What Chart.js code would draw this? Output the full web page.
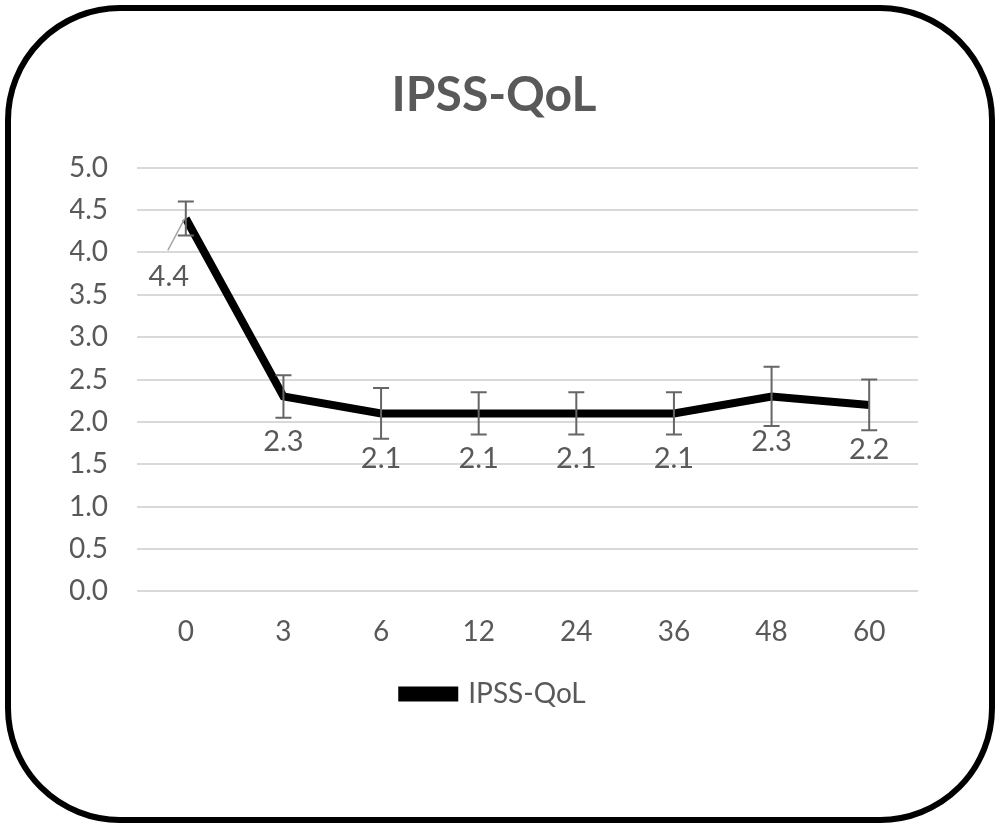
<!DOCTYPE html>
<html>
<head>
<meta charset="utf-8">
<script src="https://cdn.jsdelivr.net/npm/chart.js@4.4.0/dist/chart.umd.min.js"></script>
<style>
  body { margin: 0; background: #fff; }
  #wrap { position: relative; width: 1000px; height: 828px; }
  #frame {
    position: absolute; left: 5px; top: 5px; width: 978px; height: 806px;
    border: 6px solid #000; border-radius: 115px;
  }
  canvas { position: absolute; left: 0; top: 0; }
</style>
</head>
<body>
<div id="wrap">
  <div id="frame"></div>
  <canvas id="chart" width="1000" height="828"></canvas>
</div>
<script>
// Data
const months = ['0', '3', '6', '12', '24', '36', '48', '60'];
const qolMean = [4.4, 2.3, 2.1, 2.1, 2.1, 2.1, 2.3, 2.2];
const qolErr = [0.2, 0.25, 0.3, 0.25, 0.25, 0.25, 0.35, 0.3];
const yTicks = [0, 0.5, 1, 1.5, 2, 2.5, 3, 3.5, 4, 4.5, 5];

const grey = '#595959';
const fontFamily = 'Lato, "Open Sans", sans-serif';

// Error bars
const errorBarPlugin = {
    id: 'errorBars',
    afterDatasetsDraw(chart) {
        const ctx = chart.ctx;
        const xs = chart.scales.x;
        const ys = chart.scales.y;
        ctx.save();
        ctx.strokeStyle = '#666';
        ctx.lineWidth = 2;
        qolMean.forEach((v, i) => {
            const x = xs.getPixelForValue(i);
            const yTop = ys.getPixelForValue(v + qolErr[i]);
            const yBot = ys.getPixelForValue(v - qolErr[i]);
            ctx.beginPath();
            ctx.moveTo(x, yTop); ctx.lineTo(x, yBot);
            ctx.moveTo(x - 8, yTop); ctx.lineTo(x + 8, yTop);
            ctx.moveTo(x - 8, yBot); ctx.lineTo(x + 8, yBot);
            ctx.stroke();
        });
        ctx.restore();
    }
};

// Value labels under the points
const valueLabelPlugin = {
    id: 'valueLabels',
    afterDraw(chart) {
        const ctx = chart.ctx;
        const xs = chart.scales.x;
        const ys = chart.scales.y;
        ctx.save();
        ctx.fillStyle = grey;
        ctx.font = '29px ' + fontFamily;
        ctx.textAlign = 'center';
        ctx.textBaseline = 'middle';
        qolMean.forEach((v, i) => {
            const x = xs.getPixelForValue(i);
            const y = ys.getPixelForValue(v);
            if (i === 0) {
                // first label sits off to the side with a leader line
                ctx.strokeStyle = '#a6a6a6';
                ctx.lineWidth = 1.5;
                ctx.beginPath();
                ctx.moveTo(x - 1, y);
                ctx.lineTo(x - 18, y + 32);
                ctx.stroke();
                ctx.fillText(v.toFixed(1), x - 17, y + 58);
            } else {
                ctx.fillText(v.toFixed(1), x, y + 45);
            }
        });
        ctx.restore();
    }
};

const ctx = document.getElementById('chart').getContext('2d');
new Chart(ctx, {
    type: 'line',
    data: {
        labels: months,
        datasets: [{
            label: 'IPSS-QoL',
            data: qolMean,
            borderColor: '#000',
            backgroundColor: '#000',
            borderWidth: 8,
            pointRadius: 0,
            tension: 0
        }]
    },
    options: {
        responsive: false,
        animation: false,
        layout: { padding: { left: 70, right: 82, top: 67, bottom: 110 } },
        plugins: {
            title: {
                display: true,
                text: 'IPSS-QoL',
                color: grey,
                font: { family: fontFamily, size: 48, weight: 'bold' },
                padding: { top: 0, bottom: 43 }
            },
            legend: {
                position: 'bottom',
                labels: {
                    color: grey,
                    font: { family: fontFamily, size: 28 },
                    boxWidth: 52,
                    boxHeight: 7,
                    padding: 15
                }
            },
            tooltip: { enabled: false }
        },
        scales: {
            x: {
                offset: true,
                grid: { display: false },
                border: { display: false },
                ticks: { color: grey, font: { family: fontFamily, size: 28 }, padding: 16 }
            },
            y: {
                min: 0,
                max: 5,
                afterBuildTicks: (axis) => { axis.ticks = yTicks.map(v => ({ value: v })); },
                afterFit: (axis) => { axis.width = 67; },
                grid: { color: '#d9d9d9', lineWidth: 2, drawTicks: false },
                border: { display: false },
                ticks: {
                    color: grey,
                    font: { family: fontFamily, size: 28 },
                    padding: 29,
                    callback: (v) => Number(v).toFixed(1)
                }
            }
        }
    },
    plugins: [errorBarPlugin, valueLabelPlugin]
});
</script>
</body>
</html>
